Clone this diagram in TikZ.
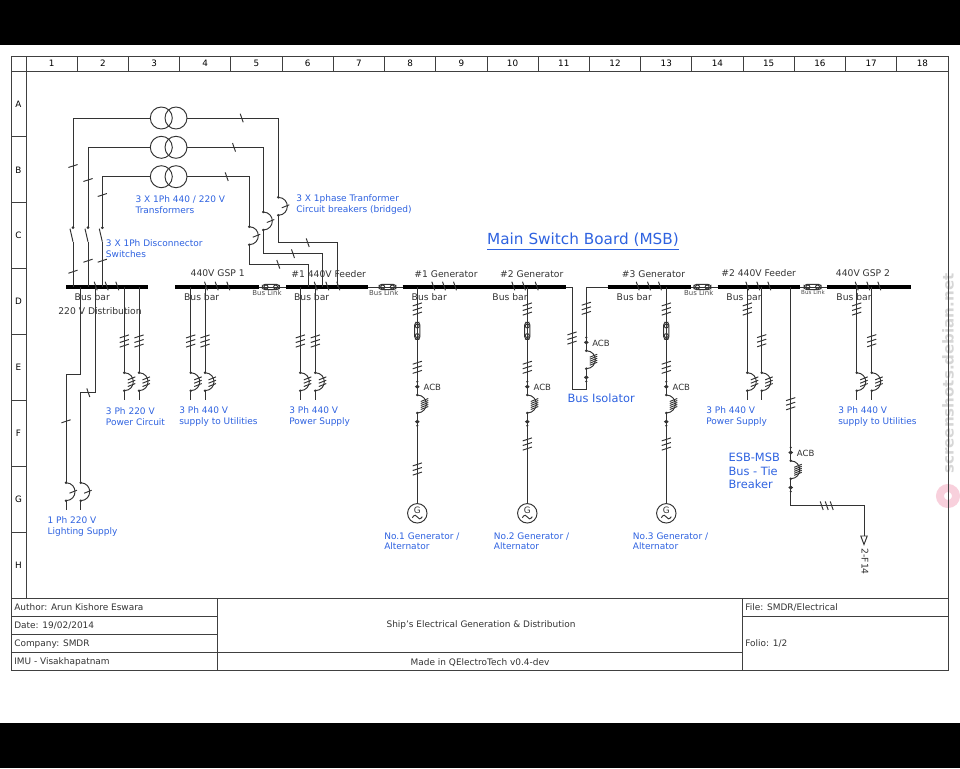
\documentclass[tikz,border=0pt]{standalone}
\usepackage{fontspec}
\setmainfont{DejaVu Sans}
\usetikzlibrary{positioning}
\definecolor{wirecol}{HTML}{333333}
\definecolor{noteblue}{HTML}{2E62E0}
\definecolor{ringpink}{HTML}{F8D0DC}
\newcommand{\brkshape}[1]{%
  \fill[wirecol] (0,0) circle[radius=1.4] (0,18) circle[radius=1.4];
  \draw[wire] (0,0) .. controls (12,0.5) and (12,17.5) .. (0,18);
  \foreach \k in {1,...,#1}{
    \pgfmathsetmacro{\off}{9+(\k-(#1+1)/2)*10/#1}
    \draw[wire] (3.5,{\off+1.5}) -- (11,{\off-1.5});
  }}
\tikzset{
  wire/.style={line width=0.72pt,draw=wirecol},
  busbar/.style={line width=3.2pt,draw=black},
  frameline/.style={line width=0.65pt,draw=black!75},
  cell/.style={rectangle,frameline,inner sep=0pt,font=\fontsize{6.6}{8}\selectfont},
  xfmr/.style={circle,wire,minimum size=16.5pt,inner sep=0pt},
  blacktxt/.style={inner sep=0pt,text=black!80,font=\fontsize{6.9}{8}\selectfont},
  linktxt/.style={inner sep=0pt,text=black!70,font=\fontsize{5.2}{6}\selectfont},
  tabletxt/.style={inner sep=0pt,yshift=-0.7pt,text=black!80,font=\fontsize{6.72}{8}\selectfont},
  bluetxt/.style={inner sep=0pt,yshift=-0.4pt,anchor=west,align=left,text=noteblue,font=\fontsize{6.75}{7.9}\selectfont},
  bignote/.style={inner sep=0pt,anchor=west,align=left,text=noteblue,font=\fontsize{8.55}{10.3}\selectfont},
  pics/vtick/.style={code={
    \foreach \k in {1,...,#1}{
      \pgfmathsetmacro{\off}{(\k-(#1+1)/2)*4.6}
      \draw[wire] (-4.6,{\off+1.5}) -- (4.6,{\off-1.5});
    }}},
  pics/htick/.style={code={
    \foreach \k in {1,...,#1}{
      \pgfmathsetmacro{\off}{(\k-(#1+1)/2)*5}
      \draw[wire] ({\off-1.5},-4.3) -- ({\off+1.5},4.3);
    }}},
  pics/breaker/.style={code={
    \brkshape{#1}
    \coordinate (-top) at (0,0);
    \coordinate (-bot) at (0,18);
  }},
  pics/acb/.style={code={
    \fill[wirecol] (0,0) circle[radius=1.2] (0,44) circle[radius=1.2];
    \fill[wirecol] (-2.4,5) -- (0,3) -- (2.4,5) -- (0,7) -- cycle;
    \fill[wirecol] (-2.4,40) -- (0,38) -- (2.4,40) -- (0,42) -- cycle;
    \draw[wire] (0,0) -- (0,13.3) (0,31.3) -- (0,44);
    \begin{scope}[shift={(0,13.3)}]
      \brkshape{5}
    \end{scope}
    \coordinate (-top) at (0,0);
    \coordinate (-bot) at (0,44);
  }},
  pics/discon/.style={code={
    \fill[wirecol] (0,0) circle[radius=1.5];
    \draw[wire] (-3,1) -- (0,14);
    \coordinate (-top) at (0,0);
    \coordinate (-bot) at (0,14);
  }},
  pics/linkfuse/.style={code={
    \draw[wire,rounded corners=2pt] (-8.5,-2.6) rectangle (8.5,2.6);
    \draw[wire] (-8.5,0) -- (8.5,0);
    \draw[wire] (-4.8,0) circle[radius=2] (4.8,0) circle[radius=2];
    \coordinate (-w) at (-8.5,0);
    \coordinate (-e) at (8.5,0);
  }},
  pics/gener/.style={code={
    \node (-c) [circle,wire,minimum size=14.6pt,inner sep=0pt] at (0,0) {};
    \node (-g) [inner sep=0pt,text=black!80,font=\fontsize{6.6}{7}\selectfont] at (0,-2.8) {G};
    \draw[wire] (-5,4.4) .. controls (-3,1) and (-1,1.5) .. (0,3.6) .. controls (1,6) and (3,6.4) .. (5,3.4);
  }},
}
\begin{document}
\begin{tikzpicture}[x=0.75pt,y=-0.75pt]
\useasboundingbox (0,0) rectangle (960,768);
\fill[black] (0,0) rectangle (960,45);
\fill[black] (0,723) rectangle (960,768);
% watermark
\node (wmark) [inner sep=0pt,rotate=90,text=black!16,font=\bfseries\fontsize{11.3}{12}\selectfont] at (948,373.5) {screenshots.debian.net};
\node (wring) [circle,draw=ringpink,line width=6pt,minimum size=12pt,inner sep=0pt] at (948,496) {};
% sheet frame
\draw[frameline] (11,56) rectangle (948,670);
\foreach \i in {1,...,18}{
  \node (col\i) [cell,minimum width=38.4pt,minimum height=11.25pt] at ({26+51.22*(\i-0.5)},63.5) {\i};
}
\foreach \r/\t in {1/A,2/B,3/C,4/D,5/E,6/F,7/G,8/H}{
  \node (row\t) [cell,minimum width=11.25pt,minimum height=49.4pt] at (18.5,{71+65.9*(\r-0.5)}) {\t};
}
% title block
\draw[frameline] (11,598) rectangle (948,670);
\draw[frameline] (217,598) -- (217,670) (742,598) -- (742,670);
\draw[frameline] (11,616) -- (217,616) (11,634.5) -- (217,634.5) (11,652.5) -- (217,652.5);
\draw[frameline] (217,652.5) -- (742,652.5) (742,616) -- (948,616);
\node (author) [tabletxt,anchor=west] at (14,606.5) {Author: Arun Kishore Eswara};
\node (date) [tabletxt,anchor=west] at (14,624.5) {Date: 19/02/2014};
\node (company) [tabletxt,anchor=west] at (14,643) {Company: SMDR};
\node (school) [tabletxt,anchor=west] at (14,661.5) {IMU - Visakhapatnam};
\node (sheet) [tabletxt] at (481,624.5) {Ship's Electrical Generation \& Distribution};
\node (made) [tabletxt] at (480,661.5) {Made in QElectroTech v0.4-dev};
\node (file) [tabletxt,anchor=west] at (745,606.5) {File: SMDR/Electrical};
\node (folio) [tabletxt,anchor=west] at (745,643) {Folio: 1/2};
% bus bars
\foreach \nm/\xa/\xb in {b1/66/148.3,b2/175.3/258.7,b3/286/368.3,b4/402.7/566,b5/607.7/690.7,b6/717.7/800,b7/827.3/910.7}{
  \coordinate (\nm w) at (\xa,287);
  \coordinate (\nm e) at (\xb,287);
  \draw[busbar] (\nm w) -- (\nm e);
}
\foreach \x in {95.7,106.7,117.3,206,216.7,228.3,315.7,327.3,338.3,433.3,444,455,513.3,524,536.7,637.7,649,660,747.3,758.3,769.3,856.7,868.3,879.3}{
  \pic at (\x,286) {htick=1};
}
% bus links
\pic (lnk1) at (270.8,287) {linkfuse};
\pic (lnk2) at (387.5,287) {linkfuse};
\pic (lnk3) at (702.3,287) {linkfuse};
\pic (lnk4) at (812.7,287) {linkfuse};
\draw[wire] (b2e) -- (lnk1-w) (lnk1-e) -- (b3w);
\draw[wire] (b3e) -- (lnk2-w) (lnk2-e) -- (b4w);
\draw[wire] (b5e) -- (lnk3-w) (lnk3-e) -- (b6w);
\draw[wire] (b6e) -- (lnk4-w) (lnk4-e) -- (b7w);
\node (ltx1) [linktxt] at (267,292.5) {Bus Link};
\node (ltx2) [linktxt] at (383.7,292.7) {Bus Link};
\node (ltx3) [linktxt] at (698.7,292.5) {Bus Link};
\node (ltx4) [linktxt,font=\fontsize{4.2}{5}\selectfont] at (813,292) {Bus Link};
% bus texts
\foreach \nm/\x in {bb1/92.3,bb2/201.7,bb3/311.7,bb4/429.3,bb5/510,bb6/634.3,bb7/744,bb8/854}{
  \node (\nm) [blacktxt] at (\x,297) {Bus bar};
}
\node (dist) [blacktxt] at (100,311) {220 V Distribution};
\node (gsp1) [blacktxt] at (217.7,273) {440V GSP 1};
\node (fdr1) [blacktxt] at (328.7,274) {\#1 440V Feeder};
\node (gen1t) [blacktxt] at (446,274.3) {\#1 Generator};
\node (gen2t) [blacktxt] at (531.8,273.7) {\#2 Generator};
\node (gen3t) [blacktxt] at (653.5,274.3) {\#3 Generator};
\node (fdr2) [blacktxt] at (758.7,272.7) {\#2 440V Feeder};
\node (gsp2) [blacktxt] at (863,272.7) {440V GSP 2};
% transformers and their disconnectors / breakers
\foreach \nm/\y in {t1/118,t2/147.3,t3/176.7}{
  \node (\nm l) [xfmr] at (161.3,\y) {};
  \node (\nm r) [xfmr] at (176,\y) {};
}
\pic (ds1) at (73,227.7) {discon};
\pic (ds2) at (88,227.7) {discon};
\pic (ds3) at (102.3,227.7) {discon};
\pic (cb1) at (278.3,197.3) {breaker=1};
\pic (cb2) at (263.3,212) {breaker=1};
\pic (cb3) at (249.3,226.7) {breaker=1};
\coordinate (d1bus) at (73,287);
\coordinate (d2bus) at (88,287);
\coordinate (d3bus) at (102.3,287);
\coordinate (c1mid) at (337.3,242.7);
\coordinate (c2mid) at (322.3,253.7);
\coordinate (c3mid) at (308,264.3);
\coordinate (c1bus) at (337.3,287);
\coordinate (c2bus) at (322.3,287);
\coordinate (c3bus) at (308,287);
\foreach \n in {1,2,3}{
  \draw[wire] (t\n l.west) -| (ds\n-top);
  \draw[wire] (ds\n-bot) -- (d\n bus);
  \draw[wire] (t\n r.east) -| (cb\n-top);
  \draw[wire] (cb\n-bot) |- (c\n mid) -- (c\n bus);
}
\pic at (73,166) {vtick=1};
\pic at (88,180) {vtick=1};
\pic at (102.3,195) {vtick=1};
\pic at (73,271.7) {vtick=1};
\pic at (88,260.7) {vtick=1};
\pic at (102.3,260.7) {vtick=1};
\pic at (241.7,118) {htick=1};
\pic at (234,147.3) {htick=1};
\pic at (226.7,176.7) {htick=1};
\pic at (307.7,242.7) {htick=1};
\pic at (293,253.7) {htick=1};
\pic at (278.3,264.3) {htick=1};
% 1 Ph lighting feeders
\coordinate (l1bus) at (80.7,287);
\coordinate (l2bus) at (95.3,287);
\coordinate (l1jog) at (66,374.3);
\coordinate (l2jog) at (80.7,392.7);
\pic (lb1) at (66,482.7) {breaker=1};
\pic (lb2) at (80.7,482.7) {breaker=1};
\coordinate (l1end) at (66,510);
\coordinate (l2end) at (80.7,510);
\draw[wire] (l1bus) |- (l1jog) -- (lb1-top);
\draw[wire] (l2bus) |- (l2jog) -- (lb2-top);
\draw[wire] (lb1-bot) -- (l1end) (lb2-bot) -- (l2end);
\pic at (66,421.3) {vtick=1};
\pic at (88.3,392.7) {htick=1};
% 3 Ph feeders
\foreach \nm/\x/\ty in {p1/124.3/341,p2/139/341,p3/190.7/341,p4/205/341,p5/300.3/341,p6/315.3/341,p7/747.3/309,p8/761.7/340.7,p9/856.7/309,p10/871.7/340.7}{
  \coordinate (\nm s) at (\x,287);
  \pic (\nm b) at (\x,372.7) {breaker=3};
  \coordinate (\nm e) at (\x,400);
  \draw[wire] (\nm s) -- (\nm b-top) (\nm b-bot) -- (\nm e);
  \pic at (\x,\ty) {vtick=3};
}
% generators
\foreach \nm/\x/\ty in {g1/417.3/469,g2/527.3/444,g3/666.3/444}{
  \coordinate (\nm s) at (\x,287);
  \pic (\nm f) [rotate=90] at (\x,330.8) {linkfuse};
  \pic (\nm a) at (\x,381.7) {acb};
  \pic (\nm m) at (\x,513.3) {gener};
  \draw[wire] (\nm s) -- (\nm f-e) (\nm f-w) -- (\nm a-top);
  \draw[wire] (\nm a-bot) -- (\nm m-c.north);
  \pic at (\x,309) {vtick=3};
  \pic at (\x,367.3) {vtick=3};
  \pic at (\x,\ty) {vtick=3};
}
\node (acb1) [blacktxt,anchor=west,font=\fontsize{6.4}{8}\selectfont] at (423.3,387) {ACB};
\node (acb2) [blacktxt,anchor=west,font=\fontsize{6.4}{8}\selectfont] at (533.3,387) {ACB};
\node (acb3) [blacktxt,anchor=west,font=\fontsize{6.4}{8}\selectfont] at (672.3,387) {ACB};
% bus isolator
\coordinate (iso1) at (572,287);
\coordinate (iso2) at (572,389.3);
\coordinate (iso3) at (586.3,287);
\pic (isob) at (586.3,337.4) {acb};
\draw[wire] (b4e) -- (iso1) -- (iso2) -| (isob-bot);
\draw[wire] (isob-top) -- (iso3) -- (b5w);
\pic at (572,338) {vtick=3};
\pic at (586.3,308.3) {vtick=3};
\node (acb4) [blacktxt,anchor=west,font=\fontsize{6.4}{8}\selectfont] at (592,343) {ACB};
% tie breaker
\coordinate (tie1) at (790.7,287);
\coordinate (tie2) at (790.7,505.7);
\coordinate (tie3) at (864,505.7);
\coordinate (tie4) at (864,536);
\pic (tieb) at (790.7,447.5) {acb};
\draw[wire] (tie1) -- (tieb-top) (tieb-bot) -- (tie2) -- (tie3) -- (tie4);
\draw[wire] (860.8,536) -- (867.2,536) -- (864,544.5) -- cycle;
\pic at (790.7,403.7) {vtick=3};
\pic at (826.7,505.7) {htick=3};
\node (acb5) [blacktxt,anchor=west,font=\fontsize{6.4}{8}\selectfont] at (796.7,453) {ACB};
\node (f14) [blacktxt,rotate=-90] at (865,561.7) {2-F14};
% blue notes
\node (msb) [inner sep=0pt,text=noteblue,font=\fontsize{11.45}{13}\selectfont] at (583,241.5) {\underline{Main Switch Board (MSB)}};
\node (n1) [bluetxt] at (135.3,204) {3 X 1Ph 440 / 220 V\\Transformers};
\node (n2) [bluetxt] at (296,204) {3 X 1phase Tranformer\\Circuit breakers (bridged)};
\node (n3) [bluetxt] at (105.7,248) {3 X 1Ph Disconnector\\Switches};
\node (n4) [bluetxt] at (105.7,416) {3 Ph 220 V\\Power Circuit};
\node (n5) [bluetxt] at (179,416) {3 Ph 440 V\\supply to Utilities};
\node (n6) [bluetxt] at (289,416) {3 Ph 440 V\\Power Supply};
\node (n7) [bluetxt] at (47.3,526) {1 Ph 220 V\\Lighting Supply};
\node (n8) [bluetxt] at (384,540.7) {No.1 Generator /\\Alternator};
\node (n9) [bluetxt] at (493.7,540.7) {No.2 Generator /\\Alternator};
\node (n10) [bluetxt] at (632.7,540.7) {No.3 Generator /\\Alternator};
\node (n11) [bluetxt] at (706,416) {3 Ph 440 V\\Power Supply};
\node (n12) [bluetxt] at (838,416) {3 Ph 440 V\\supply to Utilities};
\node (n13) [bignote] at (567.3,398.7) {Bus Isolator};
\node (n14) [bignote] at (728.3,471) {ESB-MSB\\Bus - Tie\\Breaker};
\end{tikzpicture}
\end{document}
